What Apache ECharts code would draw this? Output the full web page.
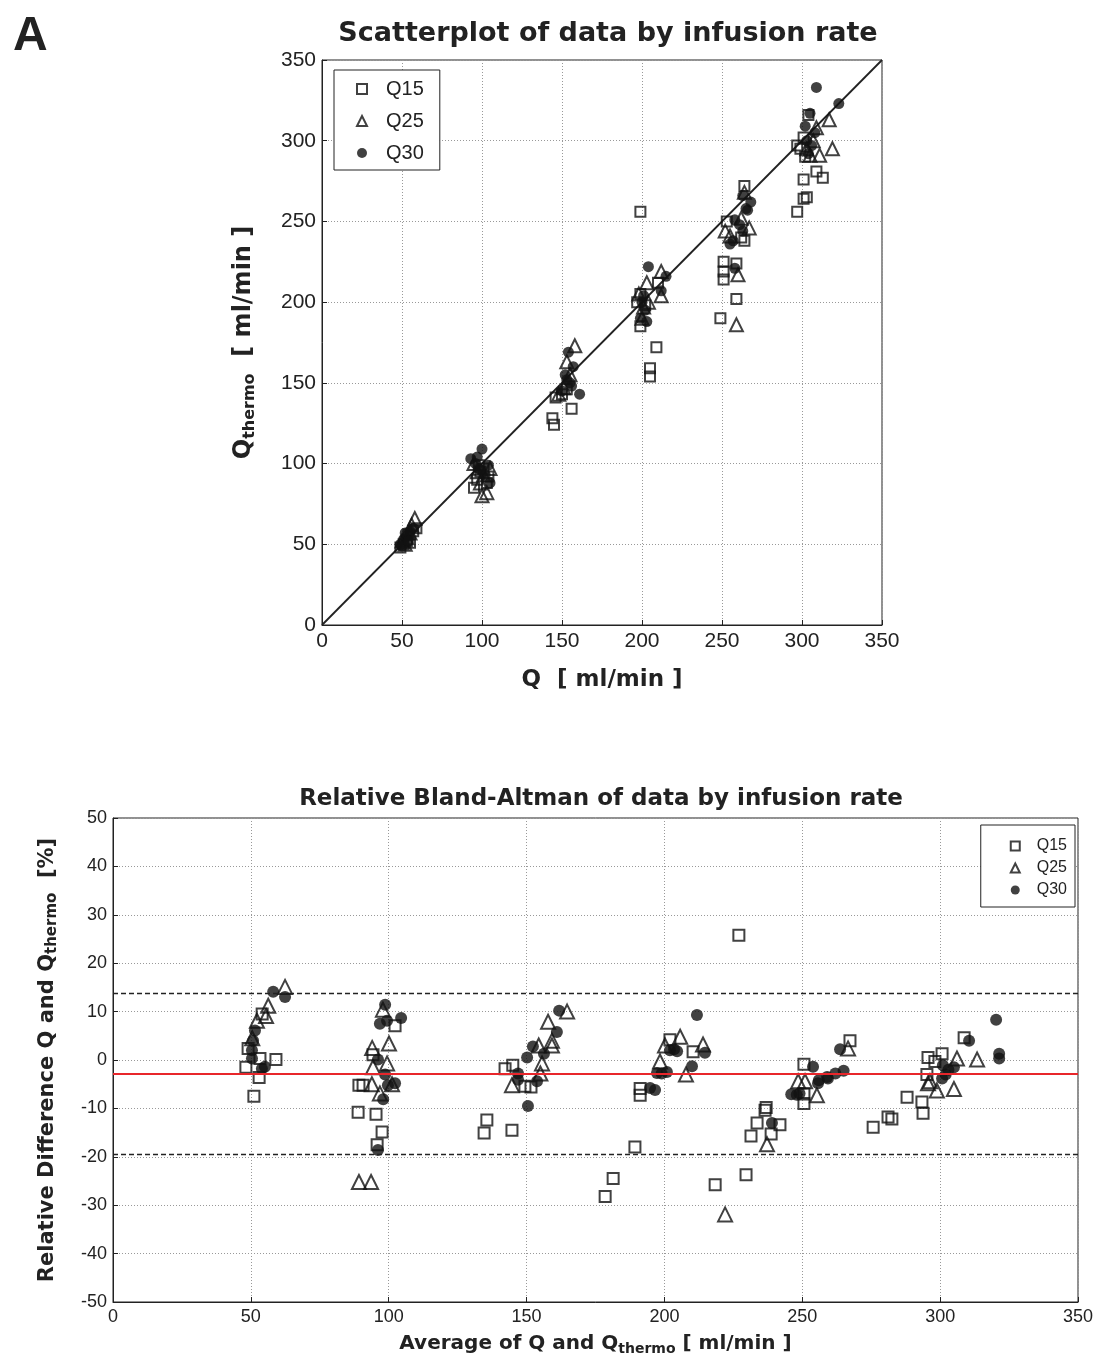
<!DOCTYPE html>
<html><head><meta charset="utf-8">
<script src="https://cdn.jsdelivr.net/npm/echarts@6/dist/echarts.min.js"></script>
<style>html,body{margin:0;padding:0;background:#fff}#c{width:1101px;height:1357px}</style>
</head><body><div id="c"></div>
<script>
// ---- Scatter (Q vs Q_thermo) ----
const q15Top = [[49,48],[51,50],[53,52],[55,51],[57,58],[59,60],[54,56],
 [95,85],[97,90],[99,95],[103,88],[98,99],[104,92],[101,97],
 [146,141],[144,128],[145,124],[156,134],[150,143],[153,146],
 [199,256],[210,212],[199,205],[199,185],[209,172],[205,159],[205,154],[197,200],[202,198],
 [264,272],[253,250],[264,238],[251,225],[251,219],[251,214],[259,224],[259,202],[249,190],[262,240],
 [304,316],[301,302],[297,297],[302,290],[309,281],[313,277],[301,276],[301,264],[303,265],[297,256],[299,295]];
const q25Top = [[50,52],[53,54],[55,57],[56,62],[58,66],[52,50],
 [100,80],[103,82],[97,95],[95,100],[105,97],[99,88],[101,93],
 [158,173],[153,163],[151,147],[155,155],[148,143],
 [212,219],[203,212],[212,204],[198,205],[201,197],[204,200],[200,190],
 [264,268],[267,246],[260,217],[259,186],[255,241],[262,252],[252,244],
 [317,313],[309,308],[319,295],[305,291],[311,291],[307,300],[303,295]];
const q30Top = [[49,50],[51,53],[53,55],[55,58],[57,60],[50,49],[52,57],[54,52],
 [93,103],[96,100],[100,109],[98,97],[104,99],[102,93],[97,104],[105,88],[99,96],
 [154,169],[152,155],[155,150],[157,160],[150,145],[161,143],[153,152],[156,148],
 [204,222],[215,216],[212,207],[200,200],[202,195],[199,190],[203,188],[201,204],
 [263,266],[266,257],[258,251],[257,238],[258,221],[268,262],[265,258],[261,248],[255,236],[263,244],
 [309,333],[323,323],[305,317],[303,300],[306,297],[308,305],[304,292],[302,309]];
const identityLine = [[0,0],[350,350]];
const topTicks = {min:0, max:350, interval:50};

// ---- Relative Bland-Altman ----
const q15BA = [[54.1,9.5],[49.0,2.4],[53.3,0.3],[59.1,0.1],[48.2,-1.5],[53,-3.6],[51.1,-7.5],
 [102.3,7.1],[94.3,1.1],[90.7,-5.2],[89.2,-5.2],[88.9,-10.8],[95.4,-11.2],[97.6,-14.9],[95.8,-17.5],
 [145,-1.1],[142.2,-1.8],[149.4,-5.4],[151.6,-5.6],[135.6,-12.4],[134.6,-15.1],[144.7,-14.5],
 [227,25.8],[202,4.2],[210.4,1.7],[191.2,-5.9],[191.2,-7.3],[189.3,-18],[181.4,-24.5],[178.5,-28.2],
 [218.4,-25.8],[229.6,-23.7],[236.9,-9.8],[236.5,-10.4],[233.6,-13],[241.9,-13.4],[238.7,-15.3],[231.4,-15.7],[250.6,-0.9],[250.6,-7],[250.6,-9],[267.3,4.0],
 [308.7,4.6],[295.6,0.5],[298.1,-0.3],[300.7,1.3],[295.2,-3],[288,-7.7],[293.4,-8.7],[293.8,-11],[281.1,-11.8],[282.5,-12.2],[275.7,-13.9]];
const q25BA = [[62.4,15.1],[56.3,11.2],[55.5,9.1],[52.2,8.1],[50.5,4.5],
 [97.9,10.4],[100.1,3.4],[94,2.5],[99.4,-0.7],[94.3,-1.5],[93.9,-5.0],[96.8,-6.9],[101.2,-5.0],[89.2,-25.2],[93.6,-25.2],
 [164.7,10.0],[157.8,7.9],[159.2,4.0],[159.2,3.0],[154.4,3.0],[155.6,-0.7],[155,-2.8],[144.7,-5.2],
 [205.7,4.8],[200.2,3.0],[214,3.2],[198.4,-0.3],[207.8,-3.0],[222,-31.9],
 [237.2,-17.4],[248.5,-4.4],[251,-4.4],[255.3,-7.3],[266.6,2.4],
 [313.4,0.1],[306.1,0.3],[296.3,-4.4],[295.6,-4.8],[298.8,-6.3],[305,-6]];
const q30BA = [[58.1,14.1],[62.4,13.0],[51.5,6.1],[50.8,4.0],[50.4,2.0],[50.4,0.3],[55.1,-1.4],[54,-1.8],
 [98.7,11.4],[96.8,7.5],[99.4,8.1],[104.5,8.7],[96.1,0.1],[98.7,-3],[102.3,-4.8],[99.7,-5.2],[98,-8.1],[96.1,-18.6],
 [161.8,10.2],[161,5.8],[156.3,1.3],[152.3,2.8],[150.2,0.5],[146.9,-2.8],[146.9,-4.1],[153.8,-4.4],[150.5,-9.5],
 [211.8,9.3],[214.7,1.5],[202,2.0],[203.5,2.2],[204.6,1.8],[210,-1.3],[197.3,-2.7],[199,-2.8],[200.9,-2.5],[194.8,-5.8],[196.6,-6.2],
 [239,-13],[253.9,-1.4],[246,-7.1],[248,-7.2],[249,-6.9],[255.7,-4.8],[259.3,-3.8],[263.7,2.2],[256,-4.2],[259,-3.5],[262,-2.8],[265,-2.2],
 [320.3,8.3],[310.5,4.0],[321.4,1.3],[321.4,0.3],[301,-1.1],[303,-2.0],[305,-1.5],[300.7,-3.8],[302,-3.0]];
const meanDiff = -2.8;
const limitsOfAgreement = [13.8, -19.4];
const baX = {min:0, max:350, interval:50};
const baY = {min:-50, max:50, interval:10};

const seriesNames = ['Q15','Q25','Q30'];

const boldFont = 'DejaVu Sans';
const tickFont = 'Liberation Sans';
const hollow = {color:'rgba(0,0,0,0)', borderColor:'#111', borderWidth:2};
const filled = {color:'#111', borderColor:'#111', borderWidth:0};

function axisCommon(fs){
  return {
    axisLine:{show:true, onZero:false, lineStyle:{color:'#222', width:1}},
    axisTick:{show:true, inside:true, length:5, lineStyle:{color:'#222'}},
    axisLabel:{color:'#222', fontFamily:tickFont, fontSize:fs, margin:6},
    splitLine:{show:true, lineStyle:{color:'#999', type:[1,2], width:1}}
  };
}

const chart = echarts.init(document.getElementById('c'), null, {renderer:'canvas'});
const option = {
  backgroundColor:'#fff',
  animation:false,
  title:[
    {text:'A', left:8, top:8, textStyle:{fontFamily:'Liberation Sans', fontWeight:'bold', fontSize:48, color:'#222'}},
    {text:'Scatterplot of data by infusion rate', left:603, textAlign:'center', top:15, textStyle:{fontFamily:boldFont, fontWeight:'bold', fontSize:27, color:'#222'}},
    {text:'Relative Bland-Altman of data by infusion rate', left:596, textAlign:'center', top:783, textStyle:{fontFamily:boldFont, fontWeight:'bold', fontSize:23, color:'#222'}}
  ],
  legend:[
    {data:seriesNames, orient:'vertical', left:334, top:70, padding:[9,16,7,22], itemGap:12, itemWidth:10, itemHeight:10,
     borderColor:'#222', borderWidth:1, backgroundColor:'#fff',
     textStyle:{fontFamily:tickFont, fontSize:20, color:'#222', padding:[0,0,0,14]}},
    {data:seriesNames, orient:'vertical', right:26, top:825, padding:[13,8,9,29], itemGap:6, itemWidth:9, itemHeight:9,
     borderColor:'#222', borderWidth:1, backgroundColor:'#fff',
     textStyle:{fontFamily:tickFont, fontSize:16, color:'#222', padding:[0,0,0,12]}}
  ],
  grid:[
    {left:322, top:60, width:560, height:565, show:true, borderColor:'#222', borderWidth:1, backgroundColor:'#fff'},
    {left:113, top:818, width:965, height:493, show:true, borderColor:'#222', borderWidth:1, backgroundColor:'#fff'}
  ],
  xAxis:[
    Object.assign(axisCommon(21), {gridIndex:0, type:'value', min:topTicks.min, max:topTicks.max, interval:topTicks.interval,
      name:'Q  [ ml/min ]', nameLocation:'middle', nameGap:44,
      nameTextStyle:{fontFamily:boldFont, fontWeight:'bold', fontSize:23, color:'#222'}}),
    Object.assign(axisCommon(18), {gridIndex:1, type:'value', min:baX.min, max:baX.max, interval:baX.interval,
      name:'{b|Average of Q and Q}{s|thermo}{b| [ ml/min ]}', nameLocation:'middle', nameGap:30,
      nameTextStyle:{rich:{b:{fontFamily:boldFont, fontWeight:'bold', fontSize:20, color:'#222'},
                           s:{fontFamily:boldFont, fontWeight:'bold', fontSize:14, color:'#222', padding:[10,0,0,0]}}}})
  ],
  yAxis:[
    Object.assign(axisCommon(21), {gridIndex:0, type:'value', min:topTicks.min, max:topTicks.max, interval:topTicks.interval,
      name:'{b|Q}{s|thermo}{b|  [ ml/min ]}', nameLocation:'middle', nameGap:64, nameRotate:90,
      nameTextStyle:{rich:{b:{fontFamily:boldFont, fontWeight:'bold', fontSize:24, color:'#222'},
                           s:{fontFamily:boldFont, fontWeight:'bold', fontSize:16, color:'#222', padding:[12,0,0,0]}}}}),
    Object.assign(axisCommon(18), {gridIndex:1, type:'value', min:baY.min, max:baY.max, interval:baY.interval,
      name:'{b|Relative Difference Q and Q}{s|thermo}{b|  [%]}', nameLocation:'middle', nameGap:53, nameRotate:90,
      nameTextStyle:{rich:{b:{fontFamily:boldFont, fontWeight:'bold', fontSize:21, color:'#222'},
                           s:{fontFamily:boldFont, fontWeight:'bold', fontSize:15, color:'#222', padding:[10,0,0,0]}}}})
  ],
  series:[
    {name:'identity', type:'line', xAxisIndex:0, yAxisIndex:0, data:identityLine, symbol:'none', silent:true,
     lineStyle:{color:'#222', width:1.8}, z:1},
    {name:'Q15', type:'scatter', xAxisIndex:0, yAxisIndex:0, data:q15Top, symbol:'rect', symbolSize:10, itemStyle:hollow, z:3},
    {name:'Q25', type:'scatter', xAxisIndex:0, yAxisIndex:0, data:q25Top, symbol:'triangle', symbolSize:13, itemStyle:hollow, z:3},
    {name:'Q30', type:'scatter', xAxisIndex:0, yAxisIndex:0, data:q30Top, symbol:'circle', symbolSize:11, itemStyle:filled, z:3},
    {name:'Q15', type:'scatter', xAxisIndex:1, yAxisIndex:1, data:q15BA, symbol:'rect', symbolSize:11, itemStyle:hollow, z:3,
     markLine:{silent:true, symbol:'none', label:{show:false},
       data:[{yAxis:meanDiff, lineStyle:{color:'#e8262b', width:1.8, type:'solid'}},
             {yAxis:limitsOfAgreement[0], lineStyle:{color:'#222', width:1.4, type:[5,3]}},
             {yAxis:limitsOfAgreement[1], lineStyle:{color:'#222', width:1.4, type:[5,3]}}]}},
    {name:'Q25', type:'scatter', xAxisIndex:1, yAxisIndex:1, data:q25BA, symbol:'triangle', symbolSize:14, itemStyle:hollow, z:3},
    {name:'Q30', type:'scatter', xAxisIndex:1, yAxisIndex:1, data:q30BA, symbol:'circle', symbolSize:12, itemStyle:filled, z:3}
  ]
};
chart.setOption(option);
</script>
</body></html>
